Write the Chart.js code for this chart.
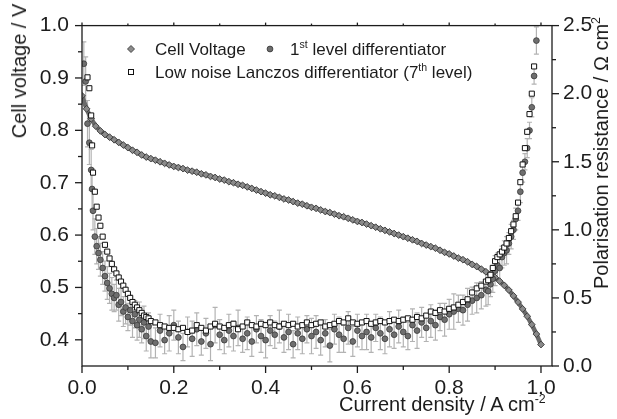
<!DOCTYPE html>
<html>
<head>
<meta charset="utf-8">
<script src="https://cdn.jsdelivr.net/npm/chart.js@4.4.1/dist/chart.umd.min.js"></script>
<style>
    html, body { margin: 0; padding: 0; background: #fff; }
    #wrap { position: relative; width: 617px; height: 419px; font-family: 'Liberation Sans', Arial, sans-serif; color: #1c1c1c; }
    #wrap canvas { position: absolute; left: 0; top: 0; }
    .lbl { position: absolute; white-space: nowrap; }
    .lbl sup { font-size: 0.62em; vertical-align: 0.62em; line-height: 0; }
    .axt { font-size: 20px; line-height: 20px; }
    .leg { font-size: 17px; line-height: 17px; }
    .rot { transform: translate(-50%, -50%) rotate(-90deg); }
</style>
</head>
<body>
<div id="wrap">
    <canvas id="chart" width="617" height="419"></canvas>
    <div class="lbl axt rot" style="left:19px; top:71px;">Cell voltage / V</div>
    <div class="lbl axt rot" style="left:601px; top:153px;">Polarisation resistance / &Omega; cm<sup>2</sup></div>
    <div class="lbl axt" style="left:339px; top:394px;">Current density / A cm<sup>-2</sup></div>
    <div class="lbl leg" style="left:155px; top:41px;">Cell Voltage</div>
    <div class="lbl leg" style="left:290px; top:41px;">1<sup>st</sup> level differentiator</div>
    <div class="lbl leg" style="left:155px; top:64px;">Low noise Lanczos differentiator (7<sup>th</sup> level)</div>
</div>
<script>
// cell voltage curve (left axis)
const cellCurrent = [
    0.00, 0.01, 0.02, 0.03, 0.04, 0.05, 0.06, 0.07, 0.08, 0.09,
    0.10, 0.11, 0.12, 0.13, 0.14, 0.15, 0.16, 0.17, 0.18, 0.19,
    0.20, 0.21, 0.22, 0.23, 0.24, 0.25, 0.26, 0.27, 0.28, 0.29,
    0.30, 0.31, 0.32, 0.33, 0.34, 0.35, 0.36, 0.37, 0.38, 0.39,
    0.40, 0.41, 0.42, 0.43, 0.44, 0.45, 0.46, 0.47, 0.48, 0.49,
    0.50, 0.51, 0.52, 0.53, 0.54, 0.55, 0.56, 0.57, 0.58, 0.59,
    0.60, 0.61, 0.62, 0.63, 0.64, 0.65, 0.66, 0.67, 0.68, 0.69,
    0.70, 0.71, 0.72, 0.73, 0.74, 0.75, 0.76, 0.77, 0.78, 0.79,
    0.80, 0.81, 0.82, 0.83, 0.84, 0.85, 0.86, 0.87, 0.88, 0.89,
    0.90, 0.91, 0.92, 0.93, 0.94, 0.95, 0.96, 0.97, 0.98, 0.99,
    1.00
];
const cellVoltage = [
    0.866, 0.841, 0.822, 0.808, 0.799, 0.792, 0.787, 0.782, 0.777, 0.772,
    0.767, 0.762, 0.758, 0.753, 0.749, 0.746, 0.743, 0.740, 0.737, 0.734,
    0.731, 0.729, 0.727, 0.724, 0.722, 0.720, 0.717, 0.715, 0.712, 0.710,
    0.707, 0.705, 0.702, 0.700, 0.697, 0.695, 0.692, 0.689, 0.686, 0.683,
    0.680, 0.677, 0.675, 0.672, 0.669, 0.667, 0.664, 0.661, 0.659, 0.656,
    0.653, 0.651, 0.648, 0.645, 0.643, 0.640, 0.637, 0.635, 0.632, 0.629,
    0.626, 0.624, 0.621, 0.618, 0.615, 0.612, 0.609, 0.606, 0.603, 0.600,
    0.597, 0.594, 0.591, 0.588, 0.584, 0.581, 0.578, 0.575, 0.571, 0.567,
    0.564, 0.560, 0.556, 0.553, 0.549, 0.544, 0.540, 0.535, 0.530, 0.525,
    0.519, 0.512, 0.504, 0.495, 0.484, 0.472, 0.459, 0.445, 0.429, 0.411,
    0.391
];

// polarisation resistance (right axis)
const resCurrent = [
    0.004, 0.008, 0.012, 0.016, 0.020, 0.022, 0.024, 0.028, 0.032, 0.036,
    0.040, 0.045, 0.050, 0.055, 0.060, 0.065, 0.070, 0.075, 0.080, 0.085,
    0.090, 0.095, 0.100, 0.105, 0.110, 0.115, 0.120, 0.125, 0.130, 0.135,
    0.140, 0.145, 0.150,
    0.16, 0.17, 0.18, 0.19, 0.20, 0.21, 0.22, 0.23, 0.24, 0.25,
    0.26, 0.27, 0.28, 0.29, 0.30, 0.31, 0.32, 0.33, 0.34, 0.35,
    0.36, 0.37, 0.38, 0.39, 0.40, 0.41, 0.42, 0.43, 0.44, 0.45,
    0.46, 0.47, 0.48, 0.49, 0.50, 0.51, 0.52, 0.53, 0.54, 0.55,
    0.56, 0.57, 0.58, 0.59, 0.60, 0.61, 0.62, 0.63, 0.64, 0.65,
    0.66, 0.67, 0.68, 0.69, 0.70, 0.71, 0.72, 0.73, 0.74, 0.75,
    0.76, 0.77, 0.78, 0.79, 0.80, 0.81, 0.82, 0.83, 0.84, 0.85,
    0.86, 0.87, 0.88,
    0.885, 0.890, 0.895, 0.900, 0.905, 0.910, 0.915, 0.920, 0.925, 0.930,
    0.935, 0.940, 0.945, 0.950, 0.955, 0.960, 0.965, 0.970, 0.975, 0.980,
    0.985, 0.990
];
const firstLevel = [
    2.22, 2.09, 1.78, 1.64, 1.44, 1.30, 1.14, 0.95, 0.88, 0.83,
    0.78, 0.72, 0.66, 0.61, 0.57, 0.53, 0.50, 0.52, 0.45, 0.47,
    0.40, 0.43, 0.36, 0.41, 0.33, 0.38, 0.30, 0.34, 0.27, 0.32,
    0.22, 0.29, 0.18,
    0.17, 0.26, 0.19, 0.24, 0.30, 0.21, 0.14, 0.25, 0.20, 0.27,
    0.18, 0.24, 0.16, 0.30, 0.23, 0.19, 0.26, 0.22, 0.28, 0.20,
    0.24, 0.18, 0.27, 0.22, 0.19, 0.26, 0.23, 0.29, 0.21, 0.25,
    0.16, 0.24, 0.20, 0.27, 0.22, 0.25, 0.19, 0.24, 0.15, 0.27,
    0.23, 0.20, 0.28, 0.18, 0.26, 0.22, 0.25, 0.21, 0.28, 0.24,
    0.20, 0.27, 0.23, 0.29, 0.25, 0.22, 0.30, 0.26, 0.32, 0.28,
    0.33, 0.30, 0.36, 0.34, 0.38, 0.40, 0.42, 0.41, 0.45, 0.48,
    0.50, 0.52, 0.56,
    0.55, 0.60, 0.64, 0.70, 0.74, 0.72, 0.80, 0.83, 0.85, 0.90,
    0.95, 1.00, 1.08, 1.14, 1.28, 1.42, 1.50, 1.60, 1.73, 1.90,
    2.13, 2.39
];
const firstLevelErr = [
    0.16, 0.18, 0.17, 0.16, 0.15, 0.15, 0.14, 0.13, 0.13, 0.12,
    0.12, 0.12, 0.11, 0.12, 0.11, 0.12, 0.10, 0.11, 0.12, 0.10,
    0.11, 0.12, 0.10, 0.11, 0.12, 0.10, 0.11, 0.13, 0.10, 0.12,
    0.11, 0.10, 0.12,
    0.11, 0.12, 0.10, 0.13, 0.11, 0.12, 0.10, 0.11, 0.13, 0.12,
    0.10, 0.11, 0.12, 0.13, 0.11, 0.10, 0.12, 0.11, 0.13, 0.10,
    0.12, 0.11, 0.10, 0.12, 0.13, 0.11, 0.10, 0.12, 0.11, 0.13,
    0.10, 0.12, 0.11, 0.10, 0.13, 0.12, 0.11, 0.10, 0.12, 0.11,
    0.13, 0.10, 0.12, 0.11, 0.12, 0.10, 0.13, 0.11, 0.10, 0.12,
    0.11, 0.13, 0.10, 0.12, 0.11, 0.10, 0.12, 0.13, 0.11, 0.10,
    0.12, 0.11, 0.10, 0.12, 0.11, 0.13, 0.10, 0.11, 0.12, 0.10,
    0.11, 0.10, 0.12,
    0.10, 0.09, 0.10, 0.11, 0.09, 0.10, 0.08, 0.09, 0.10, 0.08,
    0.09, 0.07, 0.08, 0.07, 0.08, 0.07, 0.06, 0.07, 0.06, 0.07,
    0.06, 0.10
];
const lanczos = [
    null, null, 2.12, 2.04, 1.84, 1.62, 1.42, 1.28, 1.17, 1.09,
    1.03, 0.95, 0.89, 0.84, 0.79, 0.75, 0.71, 0.68, 0.65, 0.62,
    0.59, 0.56, 0.53, 0.50, 0.47, 0.45, 0.43, 0.41, 0.39, 0.37,
    0.36, 0.35, 0.33,
    0.32, 0.30, 0.29, 0.28, 0.28, 0.27, 0.28, 0.25, 0.26, 0.30,
    0.28, 0.26, 0.29, 0.31, 0.29, 0.28, 0.30, 0.31, 0.27, 0.29,
    0.32, 0.30, 0.29, 0.31, 0.30, 0.32, 0.30, 0.29, 0.31, 0.30,
    0.31, 0.29, 0.30, 0.32, 0.30, 0.31, 0.32, 0.29, 0.30, 0.31,
    0.33, 0.32, 0.35, 0.32, 0.31, 0.32, 0.33, 0.31, 0.32, 0.33,
    0.32, 0.33, 0.34, 0.33, 0.34, 0.35, 0.34, 0.36, 0.35, 0.37,
    0.40, 0.39, 0.41, 0.40, 0.42, 0.43, 0.45, 0.47, 0.49, 0.54,
    0.57, 0.59, 0.62,
    0.63, 0.67, 0.72, 0.77, 0.80, 0.82, 0.84, 0.87, 0.90, 0.94,
    0.99, 1.04, 1.10, 1.20, 1.35, 1.48, 1.60, 1.72, 1.85, 2.00,
    2.20, null
];

const xTicks = [0, 0.2, 0.4, 0.6, 0.8, 1.0];
const xMinor = [0.1, 0.3, 0.5, 0.7, 0.9];
const voltTicks = [0.4, 0.5, 0.6, 0.7, 0.8, 0.9, 1.0];
const voltMinor = [0.45, 0.55, 0.65, 0.75, 0.85, 0.95];
const resTicks = [0, 0.5, 1.0, 1.5, 2.0, 2.5];
const resMinor = [0.25, 0.75, 1.25, 1.75, 2.25];

const FONT = "'Liberation Sans', Arial, sans-serif";
const INK = '#1c1c1c';

function pairs(xs, ys) {
    const out = [];
    xs.forEach((x, i) => { if (ys[i] !== null) out.push({x: x, y: ys[i]}); });
    return out;
}

// error bars, frame, ticks and legend symbols
const decorations = {
    id: 'decorations',
    beforeDatasetsDraw(chart) {
        const {ctx, chartArea: a, scales} = chart;
        ctx.save();
        ctx.beginPath();
        ctx.rect(a.left, a.top, a.right - a.left, a.bottom - a.top);
        ctx.clip();
        ctx.strokeStyle = '#b3b3b3';
        ctx.lineWidth = 1.2;
        resCurrent.forEach((x, i) => {
            const px = scales.x.getPixelForValue(x);
            const lo = scales.y2.getPixelForValue(firstLevel[i] - firstLevelErr[i]);
            const hi = scales.y2.getPixelForValue(firstLevel[i] + firstLevelErr[i]);
            ctx.beginPath();
            ctx.moveTo(px, lo); ctx.lineTo(px, hi);
            ctx.moveTo(px - 2.5, lo); ctx.lineTo(px + 2.5, lo);
            ctx.moveTo(px - 2.5, hi); ctx.lineTo(px + 2.5, hi);
            ctx.stroke();
        });
        ctx.restore();
    },
    afterDraw(chart) {
        const {ctx, chartArea: a, scales} = chart;
        ctx.save();
        ctx.strokeStyle = INK;
        ctx.lineWidth = 1.3;
        ctx.strokeRect(a.left, a.top, a.right - a.left, a.bottom - a.top);

        const tick = (x1, y1, x2, y2) => { ctx.beginPath(); ctx.moveTo(x1, y1); ctx.lineTo(x2, y2); ctx.stroke(); };
        xTicks.forEach(v => { const p = scales.x.getPixelForValue(v); tick(p, a.bottom, p, a.bottom + 7); tick(p, a.top, p, a.top - 3); });
        xMinor.forEach(v => { const p = scales.x.getPixelForValue(v); tick(p, a.bottom, p, a.bottom + 4); tick(p, a.top, p, a.top - 2); });
        voltTicks.forEach(v => { const p = scales.y.getPixelForValue(v); tick(a.left, p, a.left - 7, p); });
        voltMinor.forEach(v => { const p = scales.y.getPixelForValue(v); tick(a.left, p, a.left - 4, p); });
        resTicks.forEach(v => { const p = scales.y2.getPixelForValue(v); tick(a.right, p, a.right + 7, p); });
        resMinor.forEach(v => { const p = scales.y2.getPixelForValue(v); tick(a.right, p, a.right + 4, p); });

        // legend symbols
        ctx.lineWidth = 0.9;
        ctx.fillStyle = '#8c8c8c';
        ctx.strokeStyle = '#3c3c3c';
        ctx.beginPath();
        ctx.moveTo(131, 45.5); ctx.lineTo(134.5, 49); ctx.lineTo(131, 52.5); ctx.lineTo(127.5, 49); ctx.closePath();
        ctx.fill(); ctx.stroke();
        ctx.fillStyle = '#6e6e6e';
        ctx.beginPath();
        ctx.arc(270, 49, 2.9, 0, Math.PI * 2);
        ctx.fill(); ctx.stroke();
        ctx.fillStyle = '#fff';
        ctx.strokeStyle = '#111';
        ctx.lineWidth = 1;
        ctx.fillRect(128.5, 69.5, 5, 5);
        ctx.strokeRect(128.5, 69.5, 5, 5);
        ctx.restore();
    }
};

const tickFont = {family: FONT, size: 21};

new Chart(document.getElementById('chart'), {
    type: 'scatter',
    data: {
        datasets: [
            {
                label: 'Cell Voltage',
                data: pairs(cellCurrent, cellVoltage),
                yAxisID: 'y',
                showLine: true,
                borderColor: '#6a6a6a',
                borderWidth: 4.5,
                pointStyle: 'rectRot',
                pointRadius: 3.4,
                pointBackgroundColor: '#8a8a8a',
                pointBorderColor: '#3a3a3a',
                pointBorderWidth: 0.9,
                order: 3
            },
            {
                label: '1st level differentiator',
                data: pairs(resCurrent, firstLevel),
                yAxisID: 'y2',
                pointStyle: 'circle',
                pointRadius: 2.9,
                pointBackgroundColor: '#6e6e6e',
                pointBorderColor: '#3a3a3a',
                pointBorderWidth: 0.8,
                order: 2
            },
            {
                label: 'Low noise Lanczos differentiator (7th level)',
                data: pairs(resCurrent, lanczos),
                yAxisID: 'y2',
                pointStyle: 'rect',
                pointRadius: 3.6,
                pointBackgroundColor: '#ffffff',
                pointBorderColor: '#111111',
                pointBorderWidth: 1,
                order: 1
            }
        ]
    },
    options: {
        responsive: false,
        animation: false,
        events: [],
        layout: {padding: {top: 19, left: 0, right: 0, bottom: 0}},
        plugins: {
            legend: {display: false},
            tooltip: {enabled: false}
        },
        scales: {
            x: {
                type: 'linear',
                min: 0,
                max: 1.024,
                afterBuildTicks: s => { s.ticks = xTicks.map(v => ({value: v})); },
                afterFit: s => { s.height = 53; },
                grid: {display: false, drawTicks: false},
                border: {display: false},
                ticks: {padding: 10, font: tickFont, color: INK, maxRotation: 0, callback: v => Number(v).toFixed(1)}
            },
            y: {
                type: 'linear',
                position: 'left',
                min: 0.35,
                max: 1.0,
                afterBuildTicks: s => { s.ticks = voltTicks.map(v => ({value: v})); },
                afterFit: s => { s.width = 82; },
                grid: {display: false, drawTicks: false},
                border: {display: false},
                ticks: {padding: 13, font: tickFont, color: INK, callback: v => Number(v).toFixed(1)}
            },
            y2: {
                type: 'linear',
                position: 'right',
                min: 0,
                max: 2.5,
                afterBuildTicks: s => { s.ticks = resTicks.map(v => ({value: v})); },
                afterFit: s => { s.width = 65; },
                grid: {display: false, drawTicks: false},
                border: {display: false},
                ticks: {padding: 11, font: tickFont, color: INK, callback: v => Number(v).toFixed(1)}
            }
        }
    },
    plugins: [decorations]
});
</script>
</body>
</html>
